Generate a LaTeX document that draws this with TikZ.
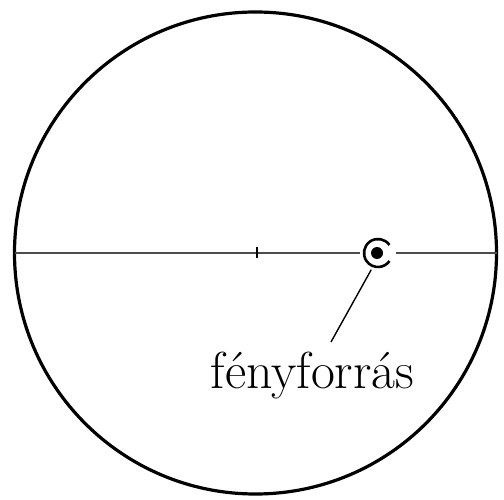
\documentclass[tikz,border=0pt]{standalone}
\usepackage{fontspec}
\begin{document}
\begin{tikzpicture}[x=1pt,y=1pt,
  rim/.style={circle,draw=black,line width=3.2pt,inner sep=0pt,outer sep=0pt,minimum size=482pt},
  axis/.style={draw=black!70,line width=1.1pt},
  srcbox/.style={circle,inner sep=0pt,outer sep=0pt,minimum size=36pt},
  leader/.style={draw=black,line width=1.4pt},
  lbl/.style={inner sep=0pt,font=\fontsize{52}{62}\selectfont}]
\useasboundingbox (0,0) rectangle (504,499);
\node[rim] (big) at (255.5,246) {};
\node[srcbox] (src) at (378,246) {};
\coordinate (ctr) at (257,246);
\coordinate (lead) at (331,157);
\node[lbl,anchor=base] (label) at (312.5,111) {fényforrás};
\draw[axis] (big.west) -- (src.west);
\draw[axis] (src.east) -- (big.east);
\draw[line width=1.2pt] ([yshift=5.5pt]ctr) -- ([yshift=-5.5pt]ctr);
\draw[line width=2.6pt] ([shift={(35:14pt)}]src.center) arc[start angle=35,end angle=325,radius=14pt];
\fill ([xshift=-1pt]src.center) circle[radius=6pt];
\draw[leader] (src.-112) -- (lead);
\end{tikzpicture}
\end{document}
